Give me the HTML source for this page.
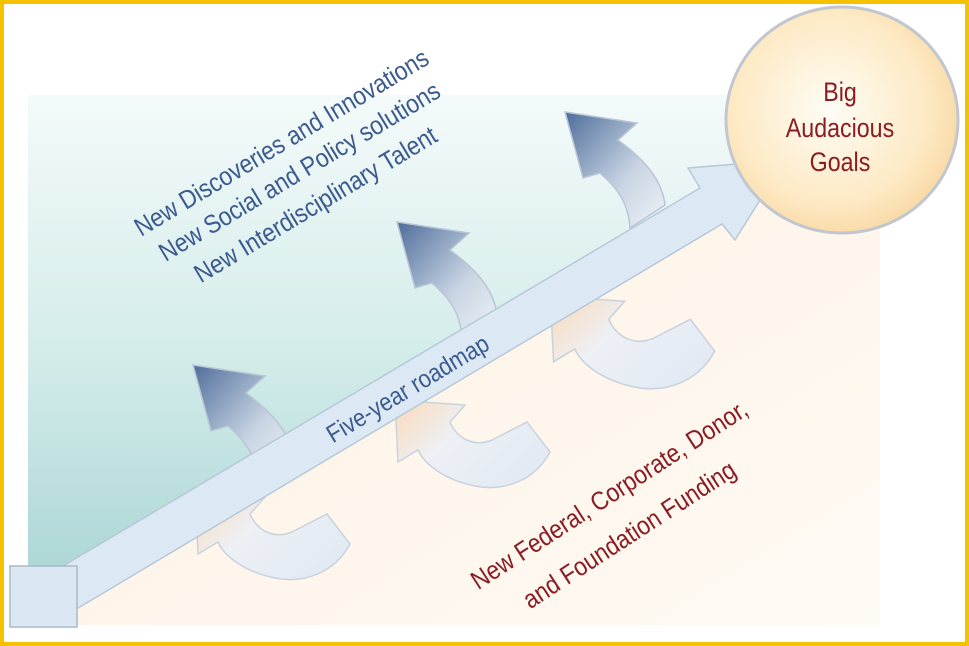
<!DOCTYPE html>
<html><head><meta charset="utf-8"><style>
html,body{margin:0;padding:0;width:969px;height:646px;overflow:hidden;background:#fff}
</style></head><body>
<svg width="969" height="646" viewBox="0 0 969 646" xmlns="http://www.w3.org/2000/svg" font-family="Liberation Sans, sans-serif">
<defs>
<linearGradient id="teal" x1="0" y1="0" x2="0" y2="1">
<stop offset="0" stop-color="#f4fafa"/><stop offset="0.5" stop-color="#d3ecea"/><stop offset="1" stop-color="#a5d3d1"/>
</linearGradient>
<linearGradient id="cream" x1="0" y1="0" x2="1" y2="1">
<stop offset="0" stop-color="#fdf0e0"/><stop offset="1" stop-color="#fefaf4"/>
</linearGradient>
<linearGradient id="up" x1="0" y1="0" x2="1" y2="1">
<stop offset="0" stop-color="#4f6d9b"/><stop offset="0.6" stop-color="#c9d5e3"/><stop offset="1" stop-color="#eef3f8"/>
</linearGradient>
<linearGradient id="hook" x1="0" y1="0" x2="1" y2="0.6">
<stop offset="0" stop-color="#fbd9b6"/><stop offset="0.45" stop-color="#edf0f5"/><stop offset="1" stop-color="#e2eaf4"/>
</linearGradient>
<radialGradient id="circ" cx="0.45" cy="0.45" r="0.6">
<stop offset="0" stop-color="#fffdf6"/><stop offset="0.7" stop-color="#fde9c4"/><stop offset="1" stop-color="#f8d7a0"/>
</radialGradient>
</defs>
<rect x="0" y="0" width="969" height="646" fill="#fff"/>
<polygon points="28,95 880,95 880,625 28,625" fill="url(#cream)"/>
<polygon points="28,95 880,95 880,104 48,604 28,615" fill="url(#teal)"/>
<g id="h2" fill="url(#hook)" stroke="#c9d3de" stroke-width="1.5">
<path d="M395,400 L465,405 L450,422 C458,440 475,447 492,440 L527,422 L550,452 C535,480 505,492 475,486 C445,480 425,465 418,450 L398,462 Z"/>
</g>
<use href="#h2" transform="translate(-200,92)"/>
<use href="#h2" transform="translate(165,-104) translate(555,400) scale(1.06) translate(-555,-400)"/>
<g id="u3" fill="url(#up)" stroke="#b9c6d6" stroke-width="1.5">
<path d="M565,112 L637,123 L618,140 C645,160 662,180 665,205 L630,228 C628,200 615,186 600,173 L583,178 Z"/>
</g>
<use href="#u3" transform="translate(-168,110)"/>
<use href="#u3" transform="translate(-372,253)"/>
<polygon points="36,582 700,188 688,168 785,160 735,240 722,224 58,620" fill="#dce9f4" stroke="#b7c8d8" stroke-width="1.5"/>
<rect x="10" y="566" width="67" height="61" fill="#dbe8f4" stroke="#a9b8c8" stroke-width="1.5"/>
<ellipse cx="842" cy="120" rx="116" ry="113" fill="url(#circ)" stroke="#c2c7cf" stroke-width="3"/>
<g fill="#8b1c24" font-size="27" text-anchor="middle">
<text transform="translate(840,101) scale(0.86,1)">Big</text>
<text transform="translate(840,137) scale(0.86,1)">Audacious</text>
<text transform="translate(840,171) scale(0.86,1)">Goals</text>
</g>
<g fill="#3b5a8e" font-size="26" text-anchor="middle">
<text transform="translate(286,150) rotate(-31) scale(0.88,1)">New Discoveries and Innovations</text>
<text transform="translate(304,179) rotate(-31) scale(0.88,1)">New Social and Policy solutions</text>
<text transform="translate(320,212) rotate(-31) scale(0.88,1)">New Interdisciplinary Talent</text>
<text transform="translate(412,396) rotate(-31) scale(0.88,1)" font-size="25">Five-year roadmap</text>
</g>
<g fill="#8b1c24" font-size="26" text-anchor="middle">
<text transform="translate(614,502) rotate(-33) scale(0.88,1)">New Federal, Corporate, Donor,</text>
<text transform="translate(634,542) rotate(-33) scale(0.88,1)">and Foundation Funding</text>
</g>
<rect x="2" y="2" width="965" height="642" fill="none" stroke="#f6c200" stroke-width="4"/>
</svg>
</body></html>
